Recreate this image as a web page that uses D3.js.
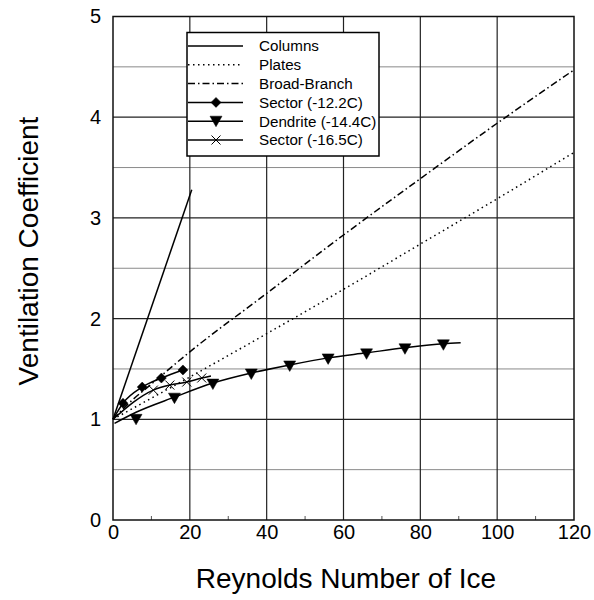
<!DOCTYPE html>
<html>
<head>
<meta charset="utf-8">
<script src="https://d3js.org/d3.v7.min.js"></script>
<style>
body { margin: 0; background: #fff; }
svg text { font-family: "Liberation Sans", Arial, sans-serif; fill: #000; }
.grid-major { stroke: #222; stroke-width: 1.2; }
.grid-minor { stroke: #8a8a8a; stroke-width: 1; }
.series { fill: none; stroke: #000; stroke-width: 1.5; }
</style>
</head>
<body>
<svg width="594" height="600"></svg>
<script>

// values
var xTicks = [0, 20, 40, 60, 80, 100, 120];
var yTicks = [0, 1, 2, 3, 4, 5];

var columnsX = [0, 20.5];
var columnsY = [1, 3.28];

var platesX = [0, 10, 20, 40, 60, 80, 100, 120];
var platesY = [1, 1.21, 1.42, 1.85, 2.29, 2.74, 3.19, 3.65];

var broadX = [0, 5, 10, 20, 40, 60, 80, 100, 120];
var broadY = [1, 1.19, 1.35, 1.67, 2.25, 2.83, 3.39, 3.94, 4.47];

// line points and marker points for the three measured series
var sec122LineX = [0, 2.6, 7.6, 12.6, 18.2];
var sec122LineY = [1, 1.16, 1.32, 1.41, 1.49];
var sec122X = [2.6, 7.6, 12.6, 18.2];
var sec122Y = [1.16, 1.32, 1.41, 1.49];

var dendLineX = [0.4, 6, 16, 26, 36, 46, 56, 66, 76, 86, 90.5];
var dendLineY = [0.96, 1.07, 1.22, 1.36, 1.46, 1.54, 1.61, 1.66, 1.71, 1.75, 1.76];
var dendX = [6, 16, 26, 36, 46, 56, 66, 76, 86];
var dendY = [1.0, 1.21, 1.35, 1.45, 1.53, 1.6, 1.65, 1.7, 1.74];

var sec165LineX = [0, 10.5, 14.8, 19.2, 23.1, 25.5];
var sec165LineY = [1, 1.29, 1.34, 1.37, 1.41, 1.43];
var sec165X = [10.5, 14.8, 19.2, 23.1];
var sec165Y = [1.29, 1.34, 1.37, 1.41];

var legendNames = ["Columns", "Plates", "Broad-Branch", "Sector (-12.2C)", "Dendrite (-14.4C)", "Sector (-16.5C)"];

var svg = d3.select("svg");

var x = d3.scaleLinear().domain([0, 120]).range([113, 574]);
var y = d3.scaleLinear().domain([0, 5]).range([520, 16.5]);

// grid
var g = svg.append("g");
g.selectAll(".hminor")
    .data(d3.range(0.5, 5, 1))
  .enter().append("line")
    .attr("class", "grid-minor")
    .attr("x1", x(0)).attr("x2", x(120))
    .attr("y1", function(d) { return y(d); })
    .attr("y2", function(d) { return y(d); });
g.selectAll(".hmajor")
    .data([1, 2, 3, 4])
  .enter().append("line")
    .attr("class", "grid-major")
    .attr("x1", x(0)).attr("x2", x(120))
    .attr("y1", function(d) { return y(d); })
    .attr("y2", function(d) { return y(d); });
g.selectAll(".vmajor")
    .data([20, 40, 60, 80, 100])
  .enter().append("line")
    .attr("class", "grid-major")
    .attr("y1", y(0)).attr("y2", y(5))
    .attr("x1", function(d) { return x(d); })
    .attr("x2", function(d) { return x(d); });
// small minor ticks along the bottom
g.selectAll(".xminor")
    .data(d3.range(10, 120, 20))
  .enter().append("line")
    .attr("stroke", "#555")
    .attr("y1", y(0)).attr("y2", y(0) - 4)
    .attr("x1", function(d) { return x(d); })
    .attr("x2", function(d) { return x(d); });

// frame
svg.append("rect")
    .attr("x", x(0)).attr("y", y(5))
    .attr("width", x(120) - x(0)).attr("height", y(0) - y(5))
    .attr("fill", "none").attr("stroke", "#111").attr("stroke-width", 1.5);

// axes
var xAxis = svg.append("g")
    .attr("transform", "translate(0," + y(0) + ")")
    .call(d3.axisBottom(x).tickValues(xTicks).tickSize(0).tickPadding(5).tickFormat(d3.format("d")));
xAxis.select(".domain").remove();
xAxis.selectAll("text").style("font-size", "20px");

var yAxis = svg.append("g")
    .attr("transform", "translate(" + x(0) + ",0)")
    .call(d3.axisLeft(y).tickValues(yTicks).tickSize(0).tickPadding(12).tickFormat(d3.format("d")));
yAxis.select(".domain").remove();
yAxis.selectAll("text").style("font-size", "20px");

svg.append("text")
    .attr("x", 346).attr("y", 588)
    .attr("text-anchor", "middle")
    .style("font-size", "28px")
    .text("Reynolds Number of Ice");

svg.append("text")
    .attr("transform", "translate(38,251) rotate(-90)")
    .attr("text-anchor", "middle")
    .style("font-size", "28px")
    .text("Ventilation Coefficient");

// series
var line = d3.line()
    .x(function(d) { return x(d[0]); })
    .y(function(d) { return y(d[1]); })
    .curve(d3.curveMonotoneX);

function pts(xs, ys) { return xs.map(function(v, i) { return [v, ys[i]]; }); }

var plot = svg.append("g");
plot.append("path").attr("class", "series").attr("d", line(pts(columnsX, columnsY)));
plot.append("path").attr("class", "series").attr("stroke-dasharray", "1.5,3.5")
    .attr("d", line(pts(platesX, platesY)));
plot.append("path").attr("class", "series").attr("stroke-dasharray", "7,3,1.5,3")
    .attr("d", line(pts(broadX, broadY)));
plot.append("path").attr("class", "series").attr("d", line(pts(sec122LineX, sec122LineY)));
plot.append("path").attr("class", "series").attr("d", line(pts(dendLineX, dendLineY)));
plot.append("path").attr("class", "series").attr("stroke-width", 1.2)
    .attr("d", line(pts(sec165LineX, sec165LineY)));

var diamond = "M0,-5L5,0L0,5L-5,0Z";
var cross = "M-4.5,-4.5L4.5,4.5M-4.5,4.5L4.5,-4.5";
var tri = "M-6,-5L6,-5L0,5.5z";

function markers(xs, ys, shape, filled) {
  plot.selectAll(null)
      .data(pts(xs, ys))
    .enter().append("path")
      .attr("d", shape)
      .attr("transform", function(d) { return "translate(" + x(d[0]) + "," + y(d[1]) + ")"; })
      .attr("fill", filled ? "#000" : "none")
      .attr("stroke", "#000")
      .attr("stroke-width", filled ? 0.5 : 1);
}
markers(sec122X, sec122Y, diamond, true);
markers(dendX, dendY, tri, true);
markers(sec165X, sec165Y, cross, false);

// legend
var leg = svg.append("g");
leg.append("rect")
    .attr("x", 187).attr("y", 32.5)
    .attr("width", 192).attr("height", 123.5)
    .attr("fill", "#fff").attr("stroke", "#000").attr("stroke-width", 1.5);

var dashes = [null, "1.5,3.5", "7,3,1.5,3", null, null, null];
var shapes = [null, null, null, diamond, tri, cross];
legendNames.forEach(function(name, i) {
  var ly = 46 + i * 18.8;
  leg.append("line")
      .attr("x1", 188).attr("x2", 243)
      .attr("y1", ly).attr("y2", ly)
      .attr("stroke", "#000").attr("stroke-width", 1.5)
      .attr("stroke-dasharray", dashes[i]);
  if (shapes[i]) {
    leg.append("path")
        .attr("d", shapes[i])
        .attr("transform", "translate(216," + ly + ")")
        .attr("fill", i === 5 ? "none" : "#000")
        .attr("stroke", "#000")
        .attr("stroke-width", i === 5 ? 1 : 0.5);
  }
  leg.append("text")
      .attr("x", 259).attr("y", ly)
      .attr("dy", "0.35em")
      .style("font-size", "15.2px")
      .text(name);
});

</script>
</body>
</html>
